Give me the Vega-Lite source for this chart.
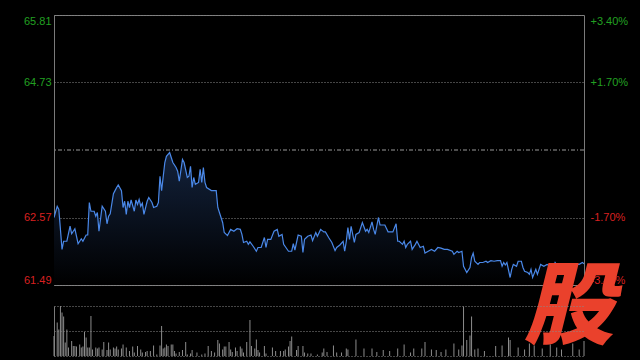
{
  "$schema": "https://vega.github.io/schema/vega-lite/v6.json",
  "background": "#000000",
  "autosize": {"type": "pad"},
  "bounds": "flush",
  "padding": {"left": 22, "top": 14, "right": 11, "bottom": 5},
  "spacing": 21,
  "config": {
    "view": {"stroke": null},
    "axis": {"labelFont": "Liberation Sans", "labelFontSize": 11}
  },
  "datasets": {
    "price": [
      {"t":0,"p":62.57},{"t":2,"p":62.75},{"t":3,"p":62.70},{"t":5,"p":62.06},{"t":6,"p":62.19},{"t":8,"p":62.19},{"t":10,"p":62.43},{"t":11,"p":62.31},{"t":13,"p":62.39},{"t":15,"p":62.15},{"t":17,"p":62.23},{"t":18,"p":62.19},{"t":20,"p":62.29},{"t":21,"p":62.29},{"t":22,"p":62.81},{"t":23,"p":62.67},{"t":25,"p":62.67},{"t":26,"p":62.59},{"t":27,"p":62.65},{"t":28,"p":62.35},{"t":30,"p":62.75},{"t":32,"p":62.67},{"t":33,"p":62.47},{"t":34,"p":62.59},{"t":35,"p":62.63},{"t":37,"p":62.95},{"t":38,"p":63.00},{"t":39,"p":63.05},{"t":40,"p":63.09},{"t":42,"p":63.00},{"t":43,"p":62.73},{"t":44,"p":62.83},{"t":45,"p":62.62},{"t":46,"p":62.83},{"t":47,"p":62.73},{"t":48,"p":62.85},{"t":50,"p":62.67},{"t":51,"p":62.85},{"t":52,"p":62.78},{"t":53,"p":62.86},{"t":54,"p":62.75},{"t":55,"p":62.80},{"t":56,"p":62.62},{"t":58,"p":62.83},{"t":59,"p":62.89},{"t":61,"p":62.81},{"t":62,"p":62.73},{"t":64,"p":62.75},{"t":65,"p":62.81},{"t":66,"p":63.23},{"t":67,"p":63.00},{"t":69,"p":63.45},{"t":70,"p":63.55},{"t":72,"p":63.61},{"t":73,"p":63.53},{"t":74,"p":63.45},{"t":76,"p":63.37},{"t":77,"p":63.31},{"t":78,"p":63.15},{"t":80,"p":63.50},{"t":81,"p":63.45},{"t":83,"p":63.21},{"t":84,"p":63.23},{"t":85,"p":63.39},{"t":86,"p":63.05},{"t":87,"p":63.21},{"t":88,"p":63.10},{"t":90,"p":63.13},{"t":91,"p":63.34},{"t":92,"p":63.13},{"t":93,"p":63.37},{"t":94,"p":63.13},{"t":95,"p":63.05},{"t":98,"p":63.00},{"t":101,"p":63.00},{"t":102,"p":62.73},{"t":103,"p":62.65},{"t":105,"p":62.49},{"t":106,"p":62.33},{"t":108,"p":62.28},{"t":110,"p":62.38},{"t":112,"p":62.35},{"t":114,"p":62.39},{"t":116,"p":62.38},{"t":117,"p":62.30},{"t":118,"p":62.17},{"t":120,"p":62.19},{"t":121,"p":62.14},{"t":122,"p":62.18},{"t":124,"p":62.11},{"t":126,"p":62.03},{"t":127,"p":62.09},{"t":129,"p":62.09},{"t":131,"p":62.25},{"t":132,"p":62.09},{"t":133,"p":62.22},{"t":135,"p":62.22},{"t":137,"p":62.35},{"t":139,"p":62.38},{"t":140,"p":62.27},{"t":142,"p":62.30},{"t":143,"p":62.14},{"t":146,"p":62.03},{"t":148,"p":62.03},{"t":149,"p":62.15},{"t":150,"p":62.05},{"t":152,"p":62.29},{"t":154,"p":62.27},{"t":155,"p":62.01},{"t":156,"p":62.22},{"t":158,"p":62.27},{"t":160,"p":62.29},{"t":161,"p":62.20},{"t":163,"p":62.33},{"t":164,"p":62.27},{"t":166,"p":62.38},{"t":168,"p":62.34},{"t":169,"p":62.34},{"t":171,"p":62.25},{"t":173,"p":62.17},{"t":175,"p":62.04},{"t":176,"p":62.09},{"t":178,"p":62.13},{"t":180,"p":62.19},{"t":181,"p":62.03},{"t":182,"p":62.19},{"t":183,"p":62.41},{"t":184,"p":62.22},{"t":185,"p":62.43},{"t":187,"p":62.17},{"t":188,"p":62.30},{"t":190,"p":62.33},{"t":192,"p":62.49},{"t":194,"p":62.35},{"t":195,"p":62.38},{"t":196,"p":62.33},{"t":198,"p":62.50},{"t":199,"p":62.38},{"t":200,"p":62.30},{"t":202,"p":62.57},{"t":203,"p":62.45},{"t":206,"p":62.45},{"t":208,"p":62.34},{"t":211,"p":62.34},{"t":213,"p":62.47},{"t":214,"p":62.19},{"t":215,"p":62.19},{"t":217,"p":62.14},{"t":218,"p":62.19},{"t":219,"p":62.09},{"t":220,"p":62.14},{"t":222,"p":62.19},{"t":223,"p":62.06},{"t":225,"p":62.14},{"t":226,"p":62.19},{"t":228,"p":62.09},{"t":230,"p":62.11},{"t":231,"p":62.00},{"t":233,"p":62.03},{"t":235,"p":62.06},{"t":237,"p":62.03},{"t":239,"p":62.09},{"t":241,"p":62.08},{"t":243,"p":62.06},{"t":245,"p":62.06},{"t":248,"p":62.03},{"t":249,"p":61.98},{"t":251,"p":62.03},{"t":252,"p":62.01},{"t":254,"p":62.03},{"t":255,"p":61.79},{"t":257,"p":61.69},{"t":259,"p":61.77},{"t":260,"p":61.93},{"t":261,"p":62.00},{"t":262,"p":61.87},{"t":264,"p":61.82},{"t":265,"p":61.85},{"t":267,"p":61.85},{"t":269,"p":61.87},{"t":270,"p":61.85},{"t":272,"p":61.88},{"t":274,"p":61.87},{"t":276,"p":61.88},{"t":278,"p":61.88},{"t":279,"p":61.79},{"t":280,"p":61.85},{"t":281,"p":61.81},{"t":282,"p":61.85},{"t":284,"p":61.61},{"t":285,"p":61.74},{"t":286,"p":61.82},{"t":288,"p":61.79},{"t":289,"p":61.87},{"t":291,"p":61.87},{"t":292,"p":61.77},{"t":293,"p":61.71},{"t":295,"p":61.69},{"t":296,"p":61.66},{"t":297,"p":61.74},{"t":298,"p":61.61},{"t":300,"p":61.74},{"t":301,"p":61.66},{"t":303,"p":61.82},{"t":305,"p":61.79},{"t":307,"p":61.82},{"t":309,"p":61.79},{"t":311,"p":61.78},{"t":312,"p":61.85},{"t":314,"p":61.78},{"t":316,"p":61.77},{"t":318,"p":61.81},{"t":320,"p":61.79},{"t":322,"p":61.79},{"t":324,"p":61.78},{"t":325,"p":61.82},{"t":327,"p":61.82},{"t":329,"p":61.85},{"t":330,"p":61.83}
    ],
    "vol": [
      {"t":0,"v":40},{"t":2,"v":67},{"t":3,"v":53},{"t":4,"v":100},{"t":5,"v":87},{"t":6,"v":79},{"t":7,"v":27},{"t":8,"v":53},{"t":9,"v":17},{"t":11,"v":30},{"t":12,"v":20},{"t":13,"v":20},{"t":14,"v":19},{"t":16,"v":23},{"t":17,"v":17},{"t":18,"v":19},{"t":19,"v":48},{"t":20,"v":37},{"t":21,"v":17},{"t":22,"v":17},{"t":23,"v":80},{"t":24,"v":13},{"t":26,"v":17},{"t":27,"v":15},{"t":28,"v":17},{"t":30,"v":13},{"t":31,"v":28},{"t":33,"v":12},{"t":34,"v":27},{"t":35,"v":13},{"t":37,"v":17},{"t":38,"v":15},{"t":39,"v":19},{"t":40,"v":13},{"t":42,"v":15},{"t":43,"v":23},{"t":45,"v":17},{"t":47,"v":10},{"t":49,"v":19},{"t":50,"v":7},{"t":52,"v":20},{"t":54,"v":13},{"t":55,"v":7},{"t":57,"v":8},{"t":58,"v":10},{"t":60,"v":10},{"t":62,"v":21},{"t":64,"v":3},{"t":66,"v":21},{"t":67,"v":60},{"t":68,"v":15},{"t":69,"v":17},{"t":70,"v":23},{"t":71,"v":20},{"t":73,"v":23},{"t":74,"v":23},{"t":75,"v":10},{"t":76,"v":5},{"t":78,"v":8},{"t":80,"v":12},{"t":82,"v":28},{"t":83,"v":3},{"t":85,"v":5},{"t":86,"v":12},{"t":89,"v":7},{"t":92,"v":3},{"t":94,"v":5},{"t":96,"v":20},{"t":98,"v":10},{"t":100,"v":7},{"t":102,"v":32},{"t":103,"v":25},{"t":105,"v":13},{"t":106,"v":19},{"t":107,"v":19},{"t":109,"v":28},{"t":110,"v":13},{"t":111,"v":8},{"t":113,"v":17},{"t":114,"v":10},{"t":116,"v":19},{"t":117,"v":15},{"t":118,"v":7},{"t":120,"v":28},{"t":122,"v":72},{"t":123,"v":20},{"t":125,"v":15},{"t":126,"v":33},{"t":127,"v":12},{"t":128,"v":7},{"t":131,"v":20},{"t":132,"v":5},{"t":136,"v":17},{"t":138,"v":10},{"t":141,"v":10},{"t":143,"v":10},{"t":144,"v":13},{"t":146,"v":19},{"t":147,"v":30},{"t":148,"v":39},{"t":151,"v":12},{"t":152,"v":20},{"t":155,"v":20},{"t":156,"v":7},{"t":158,"v":5},{"t":160,"v":5},{"t":164,"v":3},{"t":167,"v":7},{"t":168,"v":15},{"t":170,"v":8},{"t":174,"v":21},{"t":176,"v":7},{"t":179,"v":7},{"t":182,"v":15},{"t":183,"v":13},{"t":188,"v":33},{"t":193,"v":15},{"t":198,"v":15},{"t":201,"v":8},{"t":205,"v":12},{"t":209,"v":10},{"t":214,"v":15},{"t":218,"v":23},{"t":222,"v":7},{"t":224,"v":15},{"t":229,"v":15},{"t":231,"v":28},{"t":235,"v":13},{"t":238,"v":12},{"t":241,"v":8},{"t":244,"v":13},{"t":249,"v":25},{"t":252,"v":13},{"t":254,"v":21},{"t":255,"v":99},{"t":257,"v":32},{"t":259,"v":41},{"t":260,"v":79},{"t":262,"v":13},{"t":264,"v":15},{"t":268,"v":10},{"t":275,"v":20},{"t":279,"v":21},{"t":283,"v":37},{"t":284,"v":32},{"t":289,"v":17},{"t":293,"v":13},{"t":296,"v":25},{"t":299,"v":21},{"t":304,"v":15},{"t":309,"v":23},{"t":313,"v":17},{"t":316,"v":13},{"t":323,"v":25},{"t":327,"v":13},{"t":330,"v":30}
    ]
  },
  "vconcat": [
    {
      "width": 530,
      "height": 270,
      "view": {"stroke": "#7a7a7a", "strokeWidth": 1},
      "layer": [
        {
          "data": {"name": "price"},
          "mark": {"type": "area", "clip": true, "color": {"gradient": "linear", "x1": 1, "x2": 1, "y1": 1, "y2": 0, "stops": [{"offset": 0, "color": "#000000"}, {"offset": 1, "color": "#13223c"}]}},
          "encoding": {
            "x": {"field": "t", "type": "quantitative", "scale": {"domain": [0, 330], "nice": false, "zero": false},
                  "axis": {"values": [30,60,90,120,150,180,210,240,270,300], "grid": true, "gridColor": "#8a8a8a", "gridDash": [1, 2], "gridWidth": 1, "labels": false, "ticks": false, "domain": false, "title": null}},
            "y": {"field": "p", "type": "quantitative", "scale": {"domain": [61.49, 65.81], "nice": false, "zero": false},
                  "axis": {"orient": "left", "values": [61.49, 62.57, 64.73, 65.81], "format": ".2f", "labelFlush": true, "labelPadding": 3, "ticks": false, "domain": false, "title": null,
                           "grid": true, "gridColor": "#8a8a8a", "gridDash": [1, 2],
                           "labelColor": {"condition": {"test": "datum.value > 63.65", "value": "#22a022"}, "value": "#d92020"}}},
            "y2": {"datum": 61.49}
          }
        },
        {
          "data": {"values": [{"pc": 63.65}]},
          "mark": {"type": "rule", "color": "#9a9a9a", "strokeDash": [4, 2, 1, 2], "strokeWidth": 1},
          "encoding": {"y": {"field": "pc", "type": "quantitative", "axis": null}}
        },
        {
          "data": {"name": "price"},
          "mark": {"type": "line", "clip": true, "color": "#4a88e8", "strokeWidth": 1.2},
          "encoding": {
            "x": {"field": "t", "type": "quantitative", "axis": null},
            "y": {"field": "p", "type": "quantitative",
                  "axis": {"orient": "right", "values": [61.49, 62.57, 64.73, 65.81], "labelFlush": true, "labelPadding": 6, "ticks": false, "domain": false, "grid": false, "title": null,
                           "labelExpr": "datum.value > 65.5 ? '+3.40%' : datum.value > 64 ? '+1.70%' : datum.value > 62 ? '-1.70%' : '-3.40%'",
                           "labelColor": {"condition": {"test": "datum.value > 63.65", "value": "#22a022"}, "value": "#d92020"}}}
          }
        },
        {
          "data": {"values": [{"logo": "股"}]},
          "mark": {"type": "text", "font": "Noto Sans CJK SC", "fontWeight": 900, "fontStyle": "italic", "fontSize": 90, "color": "#ea412c", "align": "center", "baseline": "middle"},
          "encoding": {
            "x": {"datum": 320.5, "axis": null},
            "y": {"datum": 61.09, "axis": null},
            "text": {"field": "logo"}
          }
        }
      ],
      "resolve": {"axis": {"y": "independent"}}
    },
    {
      "width": 530,
      "height": 50,
      "data": {"name": "vol"},
      "mark": {"type": "rule", "color": "#8c8c8c", "strokeWidth": 1},
      "encoding": {
        "x": {"field": "t", "type": "quantitative", "scale": {"domain": [0, 330], "nice": false, "zero": false}, "axis": null},
        "y": {"field": "v", "type": "quantitative", "scale": {"domain": [0, 100], "nice": false},
              "axis": {"values": [0, 50, 100], "labels": false, "ticks": false, "title": null, "domain": true, "domainColor": "#7a7a7a",
                       "grid": true, "gridColor": "#8a8a8a", "gridDash": [1, 2]}},
        "y2": {"datum": 0}
      }
    }
  ]
}
